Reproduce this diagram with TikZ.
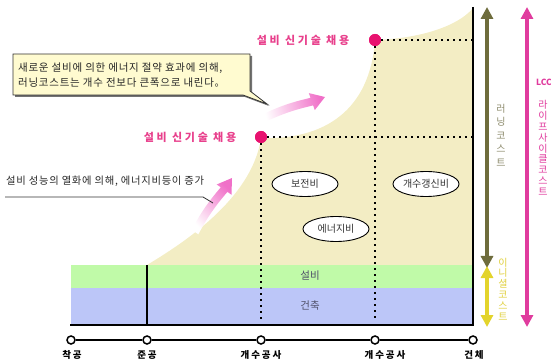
\documentclass[tikz,border=0pt]{standalone}
\usepackage{fontspec}
\setmainfont{Noto Sans CJK KR}
\newfontfamily\kr{Noto Sans CJK KR}
\newfontfamily\krsp[LetterSpace=25]{Noto Sans CJK KR}
\newfontfamily\krtl[LetterSpace=20]{Noto Sans CJK KR}
\newfontfamily\krtx[LetterSpace=7]{Noto Sans CJK KR}
\usetikzlibrary{arrows.meta,shapes.geometric}
\definecolor{beige}{HTML}{F3EDC4}
\definecolor{bgreen}{HTML}{C0FAA8}
\definecolor{bblue}{HTML}{BCC6F8}
\definecolor{callfill}{HTML}{FFFBD0}
\definecolor{olivearr}{HTML}{6E6C3C}
\definecolor{olivetxt}{HTML}{8E8C6E}
\definecolor{yelarr}{HTML}{E3D42C}
\definecolor{yeltxt}{HTML}{E0D040}
\definecolor{lccpink}{HTML}{E03C9E}
\definecolor{dotpink}{HTML}{E8126F}
\definecolor{lblpink}{HTML}{E8408C}
\definecolor{arrpink}{HTML}{F070C8}
\definecolor{bandtxt}{HTML}{50506A}
\tikzset{
  dotc/.style={circle,fill=dotpink,minimum size=12pt,inner sep=0pt},
  tlc/.style={circle,draw=black,fill=white,line width=1.5pt,minimum size=8pt,inner sep=0pt},
  dotline/.style={line width=2pt,dash pattern=on 2pt off 4pt},
  ell/.style={ellipse,draw=black,line width=0.9pt,fill=white,minimum width=66pt,minimum height=25pt,inner sep=0pt,font=\fontsize{10}{11}\kr,text=black!80},
  tllabel/.style={font=\fontsize{9.5}{11}\krtl\bfseries},
  pinklabel/.style={font=\fontsize{11}{13}\krsp\bfseries,text=lblpink},
  bigarr/.style={line width=4.5pt,{Triangle[width=12pt,length=12pt]}-{Triangle[width=12pt,length=12pt]}},
  vtext/.style={align=center,inner sep=0pt},
}
\begin{document}
\begin{tikzpicture}[x=1pt,y=-1pt]
\useasboundingbox (0,0) rectangle (551,363);
% beige running-cost region
\fill[beige] (147,265) .. controls (180,245) and (252,200) .. (261,138)
  .. controls (325,140) and (370,110) .. (375,40)
  .. controls (430,38) and (462,22) .. (473,8) -- (473,265) -- cycle;
% bands
\fill[bgreen] (71,265) rectangle (473,288);
\fill[bblue] (71,288) rectangle (473,325);
\node[font=\fontsize{10.5}{12}\kr,text=bandtxt] (lb1) at (310,276) {설비};
\node[font=\fontsize{10.5}{12}\kr,text=bandtxt] (lb2) at (310,306) {건축};
% dots and dotted lines
\node[dotc] (d1) at (261,137) {};
\node[dotc] (d2) at (375,40) {};
\coordinate (r1) at (473,137);
\coordinate (r2) at (473,40);
\coordinate (b1) at (261,322);
\coordinate (b2) at (375,322);
\draw[dotline] (d1.east) -- (r1);
\draw[dotline] (d2.east) -- (r2);
\draw[dotline] (d1.south) -- (b1);
\draw[dotline] (d2.south) -- (b2);
\node[dotc] at (261,137) {};
\node[dotc] at (375,40) {};
% solid lines
\coordinate (c1) at (147,265);
\coordinate (c2) at (147,325);
\draw[line width=2pt] (c1) -- (c2);
\coordinate (rt) at (473,7);
\coordinate (rb) at (473,326);
\draw[line width=2pt] (rt) -- (rb);
\coordinate (bl) at (70,325);
\coordinate (br) at (474,325);
\draw[line width=2.5pt] (bl) -- (br);
% ellipses
\node[ell] (e1) at (305,184) {보전비};
\node[ell] (e2) at (336,229) {에너지비};
\node[ell] (e3) at (426,184) {개수갱신비};
% pink labels
\node[pinklabel] (p1) at (303,40) {설비 신기술 채용};
\node[pinklabel] (p2) at (190,137) {설비 신기술 채용};
% gradient arrows
\shade[shading=axis,top color=white,bottom color=arrpink,shading angle=135]
  (191.7,229.7) to[bend left=6] (220.8,187.3) -- (216.7,184.5) -- (232,178) -- (231.5,194.7) -- (227.4,191.9) to[bend right=6] (198.3,234.3) -- cycle;
\shade[shading=axis,top color=white,bottom color=arrpink,shading angle=105]
  (260.7,115.2) to[bend left=6] (310.5,97.8) -- (308.8,93.1) -- (325,97) -- (314.8,110.1) -- (313.1,105.4) to[bend right=6] (263.3,122.8) -- cycle;
% callout box
\fill[black!55] (15,56) -- (252,56) -- (252,93) -- (269,106) -- (245,97) -- (15,97) -- cycle;
\filldraw[fill=callfill,draw=black!80,line width=0.8pt] (13,54) -- (250,54) -- (250,91) -- (267,104) -- (243,95) -- (13,95) -- cycle;
\node[anchor=west,align=left,font=\fontsize{10.5}{15}\krtx,text=black!85,inner sep=0pt] (ct) at (18,75.5)
  {새로운 설비에 의한 에너지 절약 효과에 의해,\\러닝코스트는 개수 전보다 큰폭으로 내린다。};
% lower text callout
\node[anchor=west,font=\fontsize{10.3}{12}\krtx,text=black!85,inner sep=0pt] (lt) at (6,181) {설비 성능의 열화에 의해, 에너지비등이 증가};
\coordinate (u1) at (5,197);
\coordinate (u2) at (203,197);
\coordinate (u3) at (213,203);
\draw[line width=0.8pt,black!80] (u1) -- (u2) -- (u3);
% timeline
\node[tlc] (t1) at (71,340) {};
\node[tlc] (t2) at (147,340) {};
\node[tlc] (t3) at (261,340) {};
\node[tlc] (t4) at (375,340) {};
\node[tlc] (t5) at (473,340) {};
\draw[line width=2pt] (t1) -- (t2) (t2) -- (t3) (t3) -- (t4) (t4) -- (t5);
\node[tllabel] (l1) at (72,355) {착공};
\node[tllabel] (l2) at (147,355) {준공};
\node[tllabel] (l3) at (261,355) {개수공사};
\node[tllabel] (l4) at (385,355) {개수공사};
\node[tllabel] (l5) at (474,355) {건체};
% right arrows
\coordinate (oa) at (487,7);
\coordinate (ob) at (487,268);
\coordinate (ya) at (487,266);
\coordinate (yb) at (487,327);
\coordinate (pa) at (527,7);
\coordinate (pb) at (527,327);
\draw[bigarr,olivearr] (oa) -- (ob);
\draw[bigarr,yelarr] (ya) -- (yb);
\draw[bigarr,lccpink] (pa) -- (pb);
\node[vtext,font=\fontsize{10}{13.5}\kr,text=olivetxt] (vr) at (501,135) {러\\닝\\코\\스\\트};
\node[vtext,font=\fontsize{10}{10.8}\kr,text=yeltxt] (vi) at (503,289) {이\\니\\셜\\코\\스\\트};
\node[font=\fontsize{8.5}{10}\kr\bfseries,text=lccpink,inner sep=0pt] (lcc) at (544,82) {LCC};
\node[vtext,font=\fontsize{10}{10.8}\kr,text=lccpink] (vl) at (543,148) {라\\이\\프\\사\\이\\클\\코\\스\\트};
\end{tikzpicture}
\end{document}
